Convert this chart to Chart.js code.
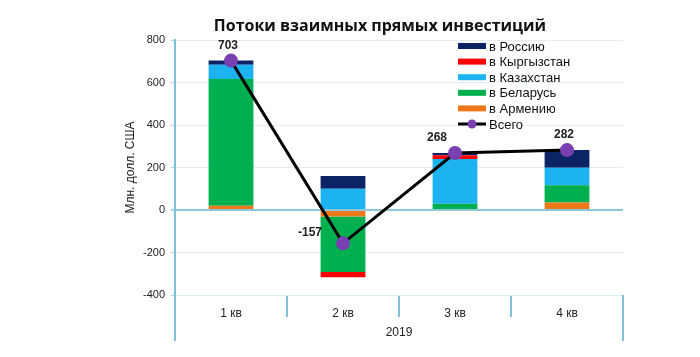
<!DOCTYPE html>
<html>
<head>
<meta charset="utf-8">
<script src="https://cdn.jsdelivr.net/npm/chart.js@4/dist/chart.umd.min.js"></script>
<style>
html,body{margin:0;padding:0;background:#fff;}
#wrap{width:700px;height:357px;}
</style>
</head>
<body>
<div id="wrap"><canvas id="c" width="700" height="357"></canvas></div>
<script>
const categories = ['1 кв', '2 кв', '3 кв', '4 кв'];
const yearLabel = '2019';
const armenia = [20, -30, 0, 35];
const belarus = [597, -262, 30, 82];
const kazakhstan = [66, 100, 210, 82];
const kyrgyzstan = [0, -25, 18, 0];
const russia = [20, 60, 10, 83];
const total = [703, -157, 268, 282];
const titleText = 'Потоки взаимных прямых инвестиций';
const yTitle = 'Млн. долл. США';

const axisBlue = '#7fc0d8';
const FONT = '"Liberation Sans", Arial, sans-serif';

const extras = {
  id: 'extras',
  afterDraw(chart) {
    const ctx = chart.ctx;
    const ca = chart.chartArea;
    ctx.save();
    // title
    ctx.font = 'bold 16px "Open Sans", sans-serif';
    ctx.fillStyle = '#111';
    ctx.textAlign = 'center';
    ctx.textBaseline = 'middle';
    ctx.fillText(titleText, 380, 26);
    // extend y axis line and right edge line down through category area
    ctx.strokeStyle = axisBlue;
    ctx.lineWidth = 2;
    ctx.beginPath();
    ctx.moveTo(ca.left, ca.bottom);
    ctx.lineTo(ca.left, ca.bottom + 46);
    ctx.moveTo(ca.right, ca.bottom);
    ctx.lineTo(ca.right, ca.bottom + 46);
    ctx.stroke();
    // total labels
    const lineIdx = chart.data.datasets.findIndex(d => d.type === 'line');
    const meta = chart.getDatasetMeta(lineIdx);
    ctx.font = 'bold 12px ' + FONT;
    ctx.fillStyle = '#222';
    meta.data.forEach((pt, i) => {
      const v = total[i];
      let dx = -3, dy = -15;
      if (v < 0) { dx = -33; dy = -11; }
      if (i === 2) { dx = -18; dy = -15; }
      ctx.fillText(String(v), pt.x + dx, pt.y + dy);
    });
    // legend
    const items = [5, 4, 3, 2, 1, 0].map(k => chart.data.datasets[k]);
    let y = 46;
    const lx = 458;
    ctx.font = '13px ' + FONT;
    ctx.textAlign = 'left';
    items.forEach(ds => {
      if (ds.type === 'line') {
        ctx.strokeStyle = '#000';
        ctx.lineWidth = 3;
        ctx.beginPath();
        ctx.moveTo(lx, y);
        ctx.lineTo(lx + 28, y);
        ctx.stroke();
        ctx.fillStyle = ds.pointBackgroundColor;
        ctx.beginPath();
        ctx.arc(lx + 14, y, 4.5, 0, Math.PI * 2);
        ctx.fill();
      } else {
        ctx.fillStyle = ds.backgroundColor;
        ctx.fillRect(lx, y - 3, 28, 6);
      }
      ctx.fillStyle = '#111';
      ctx.fillText(ds.label, lx + 31, y + 1);
      y += 15.6;
    });
    ctx.restore();
  }
};

new Chart(document.getElementById('c'), {
  data: {
    labels: categories,
    datasets: [
      { type: 'line', label: 'Всего', data: total, borderColor: '#000', borderWidth: 3,
        pointBackgroundColor: '#7a3fb0', pointBorderColor: '#7a3fb0', pointRadius: 5.5,
        tension: 0, order: 0 },
      { type: 'bar', label: 'в Армению', data: armenia, backgroundColor: '#ec7a1c', order: 1 },
      { type: 'bar', label: 'в Беларусь', data: belarus, backgroundColor: '#00b050', order: 1 },
      { type: 'bar', label: 'в Казахстан', data: kazakhstan, backgroundColor: '#1cb3f0', order: 1 },
      { type: 'bar', label: 'в Кыргызстан', data: kyrgyzstan, backgroundColor: '#ff0000', order: 1 },
      { type: 'bar', label: 'в Россию', data: russia, backgroundColor: '#0c2466', order: 1 }
    ]
  },
  options: {
    responsive: false,
    animation: false,
    devicePixelRatio: 1,
    layout: { padding: { left: 115, right: 77, top: 40, bottom: 0 } },
    datasets: { bar: { barPercentage: 0.4, categoryPercentage: 1.0 } },
    plugins: { legend: { display: false }, title: { display: false }, tooltip: { enabled: false } },
    scales: {
      x: {
        stacked: true,
        offset: true,
        afterFit(s) { s.height = 62; },
        grid: { offset: true, drawOnChartArea: false, color: axisBlue, lineWidth: 2, tickLength: 22 },
        border: { display: true, color: '#dbecf2', width: 1 },
        ticks: { padding: -11, color: '#222', font: { family: FONT, size: 12 } },
        title: { display: true, text: yearLabel, color: '#222', font: { family: FONT, size: 12 }, padding: { top: 0, bottom: 17 } }
      },
      y: {
        stacked: true,
        min: -400, max: 800,
        afterFit(s) { s.width = 60; },
        ticks: { stepSize: 200, padding: 6, color: '#222', font: { family: FONT, size: 11 } },
        grid: {
          color: c => c.tick && c.tick.value === 0 ? '#8ec6da' : '#e1eff4',
          lineWidth: c => c.tick && c.tick.value === 0 ? 2 : 1,
          tickColor: '#a9d3e2', tickLength: 4
        },
        border: { display: true, color: axisBlue, width: 2 },
        title: { display: true, text: yTitle, color: '#222', font: { family: FONT, size: 12 }, padding: { top: 8, bottom: 0 } }
      }
    }
  },
  plugins: [extras]
});
</script>
</body>
</html>
